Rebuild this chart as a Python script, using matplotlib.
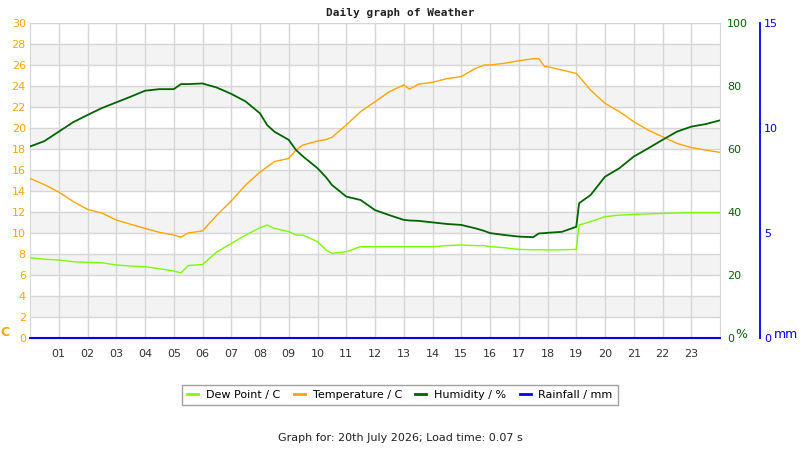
import matplotlib
matplotlib.use("Agg")
import matplotlib.pyplot as plt
from matplotlib.lines import Line2D

# ---- data ----
hours = [0, 0.5, 1, 1.5, 2, 2.5, 3, 3.5, 4, 4.5, 5, 5.25, 5.5, 6, 6.5, 7, 7.5, 8,
         8.25, 8.5, 9, 9.25, 9.5, 10, 10.3, 10.5, 11, 11.5, 12, 12.5, 13, 13.2, 13.5,
         14, 14.5, 15, 15.5, 15.8, 16, 16.5, 17, 17.5, 17.7, 17.9, 18, 18.5, 19, 19.1,
         19.5, 20, 20.5, 21, 21.5, 22, 22.5, 23, 23.5, 24]
temperature = [15.2, 14.6, 13.9, 13.0, 12.25, 11.9, 11.24, 10.83, 10.44, 10.06, 9.81, 9.6,
               10.0, 10.2, 11.7, 13.05, 14.57, 15.8, 16.3, 16.8, 17.1, 17.9, 18.38, 18.76,
               18.9, 19.11, 20.29, 21.56, 22.5, 23.46, 24.1, 23.7, 24.16, 24.35, 24.7, 24.9,
               25.68, 26.0, 26.0, 26.16, 26.4, 26.6, 26.6, 25.84, 25.84, 25.52, 25.2, 24.9,
               23.6, 22.35, 21.56, 20.6, 19.8, 19.17, 18.54, 18.13, 17.9, 17.68]
dew_point = [7.65, 7.5, 7.43, 7.27, 7.2, 7.17, 6.95, 6.86, 6.79, 6.6, 6.38, 6.2,
             6.9, 7.0, 8.2, 9.0, 9.8, 10.5, 10.76, 10.44, 10.13, 9.81, 9.8, 9.17,
             8.38, 8.06, 8.22, 8.7, 8.7, 8.7, 8.7, 8.7, 8.7, 8.7, 8.8, 8.86,
             8.8, 8.8, 8.7, 8.6, 8.44, 8.4, 8.4, 8.4, 8.38, 8.4, 8.44, 10.76,
             11.08, 11.56, 11.7, 11.78, 11.82, 11.87, 11.9, 11.94, 11.94, 11.94]
humidity = [60.8, 62.5, 65.5, 68.5, 70.8, 73.0, 74.8, 76.6, 78.5, 79.0, 79.0, 80.6,
            80.6, 80.8, 79.5, 77.5, 75.1, 71.3, 67.6, 65.5, 62.9, 59.7, 57.6, 53.9,
            51.0, 48.6, 44.9, 43.8, 40.6, 39.0, 37.5, 37.3, 37.2, 36.7, 36.2, 35.9,
            34.8, 34.0, 33.3, 32.7, 32.2, 32.0, 33.2, 33.3, 33.4, 33.7, 35.3, 42.8,
            45.4, 51.2, 53.9, 57.6, 60.2, 62.9, 65.5, 67.1, 67.9, 69.1]
rainfall = [0.0] * len(hours)
hour_labels = [f"{h:02d}" for h in range(1, 24)]

ORANGE = "#FFA500"
LIME = "#7CFC00"
DKGREEN = "#006400"
BLUE = "#0000FF"
GRID = "#d6d6d6"

plt.rcParams['font.family'] = ['DejaVu Sans']

fig = plt.figure(figsize=(8, 4.5), dpi=100)
ax = fig.add_axes([30/800, 1-338/450, 690/800, 315/450])
ax.set_xlim(0, 24)
ax.set_ylim(0, 30)
for lo in range(2, 28, 4):
    ax.axhspan(lo, lo + 2, color="#f3f3f3", zorder=0, lw=0)
ax.set_yticks(range(0, 31, 2))
ax.set_xticks(range(1, 24))
ax.set_xticklabels(hour_labels)
ax.grid(True, color=GRID, lw=1, zorder=1)
ax.set_axisbelow(True)
ax.tick_params(axis='y', length=0, pad=3, labelsize=8, labelcolor=ORANGE)
ax.tick_params(axis='x', length=0, pad=8, labelsize=8, labelcolor="#333333")
for s in ax.spines.values():
    s.set_color(GRID)

ax.plot(hours, dew_point, color=LIME, lw=1, zorder=3)
ax.plot(hours, temperature, color=ORANGE, lw=1, zorder=3)

ax_h = ax.twinx()
ax_h.set_ylim(0, 100)
ax_h.set_yticks(range(0, 101, 20))
ax_h.tick_params(axis='y', length=0, pad=5, labelsize=8, labelcolor=DKGREEN)
for s in ax_h.spines.values():
    s.set_visible(False)
ax_h.plot(hours, humidity, color=DKGREEN, lw=1.3, zorder=3)

ax_r = ax.twinx()
ax_r.set_ylim(0, 15)
ax_r.set_yticks([0, 5, 10, 15])
ax_r.spines['right'].set_position(('axes', (760-30)/690))
ax_r.spines['right'].set_color(BLUE)
ax_r.spines['right'].set_linewidth(1.3)
for k in ['left', 'top', 'bottom']:
    ax_r.spines[k].set_visible(False)
ax_r.tick_params(axis='y', length=0, pad=3, labelsize=8, labelcolor=BLUE)
ax_r.plot(hours, rainfall, color=BLUE, lw=1.5, clip_on=False, zorder=4)

fig.text(0.5, 1-13/450, "Daily graph of Weather", ha='center', va='center',
         family='DejaVu Sans Mono', weight='bold', fontsize=8, color="#222222")
fig.text(5/800, 1-333/450, "C", color=ORANGE, fontsize=9, weight='bold', ha='center', va='center')
fig.text(741/800, 1-334/450, "%", color=DKGREEN, fontsize=9, ha='center', va='center')
fig.text(786/800, 1-335/450, "mm", color=BLUE, fontsize=9, ha='center', va='center')

handles = [Line2D([], [], color=LIME, lw=2), Line2D([], [], color=ORANGE, lw=2),
           Line2D([], [], color=DKGREEN, lw=2), Line2D([], [], color=BLUE, lw=2)]
names = ["Dew Point / C", "Temperature / C", "Humidity / %", "Rainfall / mm"]
leg = fig.legend(handles, names, loc='center', bbox_to_anchor=(0.5, 1-395/450), ncol=4,
                 fontsize=8, frameon=True, fancybox=False, edgecolor="#888888",
                 handlelength=1.0, handletextpad=0.7, columnspacing=1.2,
                 borderpad=0.45, borderaxespad=0)
leg.get_frame().set_linewidth(1)

fig.text(0.5, 1-438/450, "Graph for: 20th July 2026; Load time: 0.07 s", ha='center',
         va='center', fontsize=8, color="#222222")

fig.savefig("out.png", dpi=100)
